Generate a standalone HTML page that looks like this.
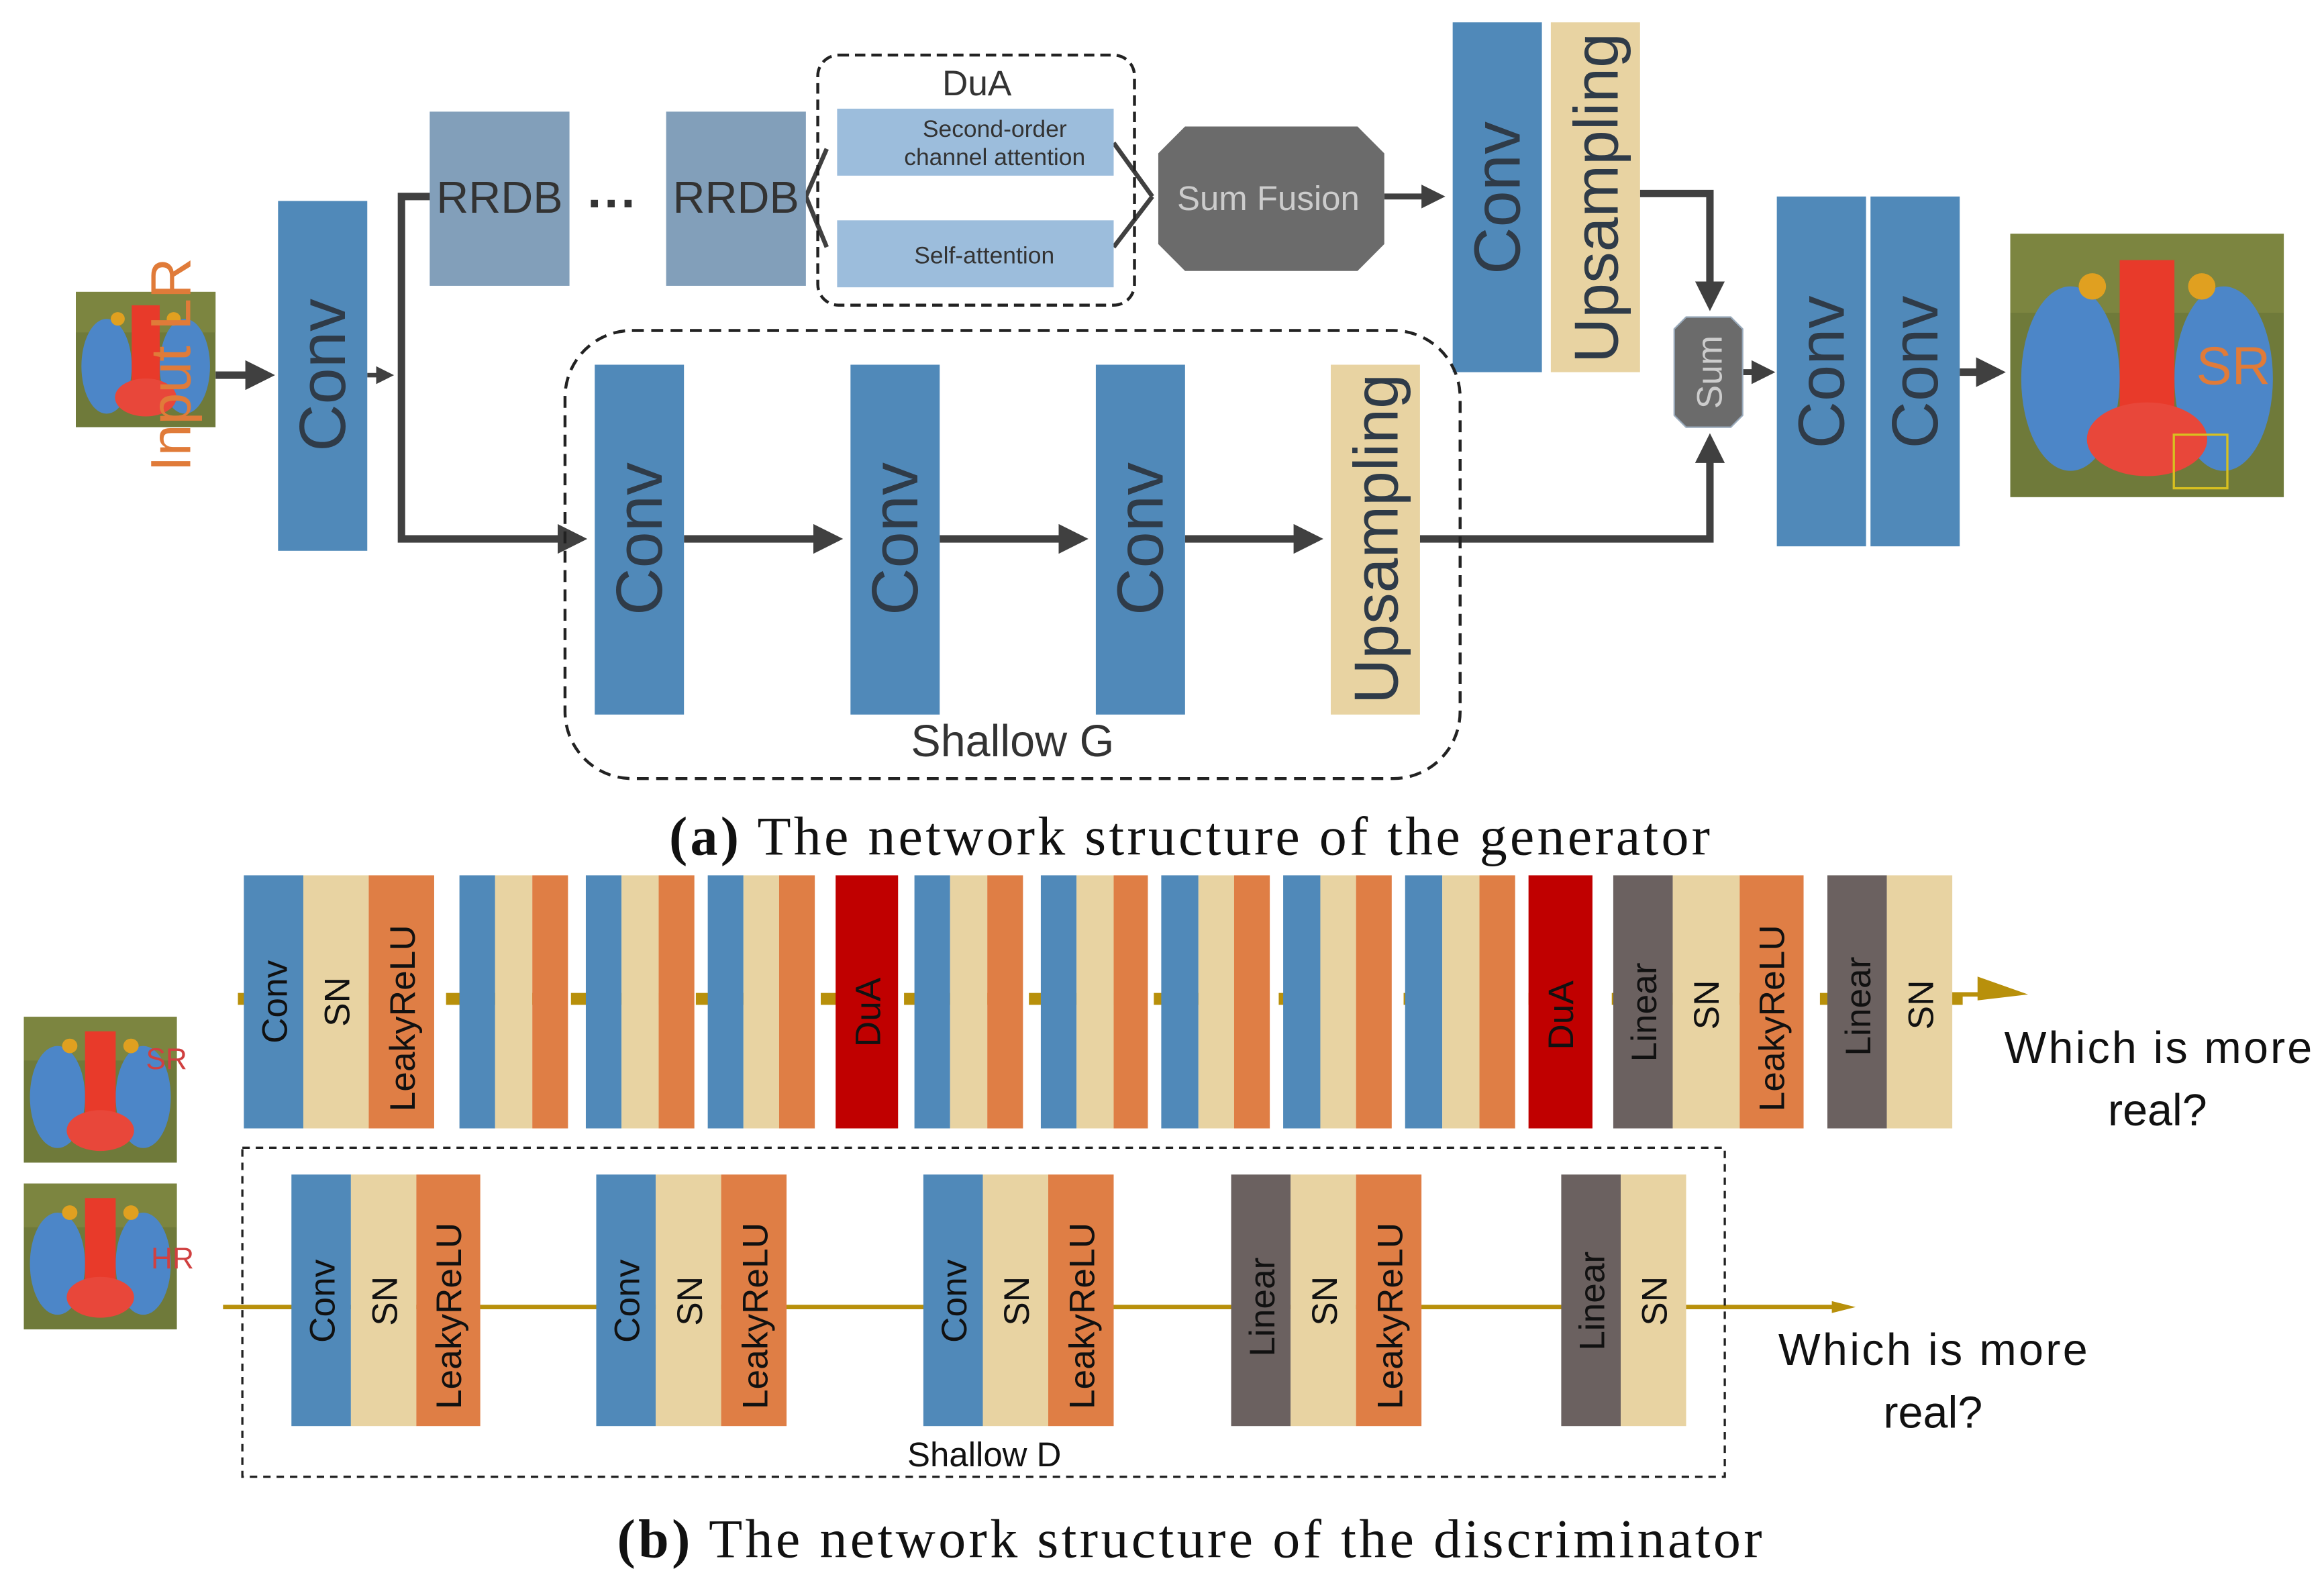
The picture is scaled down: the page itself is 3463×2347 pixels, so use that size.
<!DOCTYPE html>
<html><head><meta charset="utf-8"><style>html,body{margin:0;padding:0;background:#fff}svg{display:block}</style></head><body>
<svg width="3463" height="2347" viewBox="0 0 1563 1058" preserveAspectRatio="none" xmlns="http://www.w3.org/2000/svg" font-family="'Liberation Sans',sans-serif">
<defs>
<marker id="ah" markerWidth="4" markerHeight="4" refX="3" refY="2" orient="auto" markerUnits="strokeWidth"><path d="M0,0 L4,2 L0,4 z" fill="#404040"/></marker>
<g id="mand">
<rect width="100" height="100" fill="#6f7a3a"/>
<rect x="0" y="0" width="100" height="30" fill="#7c8540"/>
<ellipse cx="22" cy="55" rx="18" ry="35" fill="#4c86c8"/>
<ellipse cx="78" cy="55" rx="18" ry="35" fill="#4c86c8"/>
<rect x="40" y="10" width="20" height="70" fill="#e83a2a"/>
<ellipse cx="50" cy="78" rx="22" ry="14" fill="#e8473a"/>
<circle cx="30" cy="20" r="5" fill="#e0a020"/><circle cx="70" cy="20" r="5" fill="#e0a020"/>
</g>
</defs>
<!-- Generator -->
<svg x="51" y="196" width="94" height="91" viewBox="0 0 100 100" preserveAspectRatio="none"><use href="#mand"/></svg>
<text transform="translate(128,245) rotate(-90)" text-anchor="middle" font-size="38" fill="#e07b39">Input LR</text>
<g stroke="#404040" stroke-width="5" fill="none">
<line x1="145" y1="252" x2="180" y2="252" marker-end="url(#ah)"/>
<line x1="247" y1="252" x2="262" y2="252" stroke-width="3" marker-end="url(#ah)"/>
<polyline points="290,132 270,132 270,362 390,362" marker-end="url(#ah)"/>
<line x1="460" y1="362" x2="562" y2="362" marker-end="url(#ah)"/>
<line x1="632" y1="362" x2="727" y2="362" marker-end="url(#ah)"/>
<line x1="797" y1="362" x2="885" y2="362" marker-end="url(#ah)"/>
<polyline points="955,362 1150,362 1150,296" marker-end="url(#ah)"/>
<polyline points="1103,130 1150,130 1150,204" marker-end="url(#ah)"/>
<line x1="931" y1="132" x2="968" y2="132" marker-end="url(#ah)" stroke-width="4"/>
<line x1="1172" y1="250" x2="1190" y2="250" stroke-width="4" marker-end="url(#ah)"/>
<line x1="1318" y1="250" x2="1344" y2="250" marker-end="url(#ah)"/>
<path d="M542,132 L556,100 M542,132 L556,166 M749,96 L775,132 M749,166 L775,132" stroke-width="3"/>
</g>
<rect x="187" y="135" width="60" height="235" fill="#5089b9"/>
<text transform="translate(232,252) rotate(-90)" text-anchor="middle" font-size="44" fill="#2f3b48">Conv</text>
<rect x="289" y="75" width="94" height="117" fill="#829fba"/>
<text x="336" y="143" text-anchor="middle" font-size="30" fill="#333">RRDB</text>
<text x="412" y="148" text-anchor="middle" font-size="34" font-weight="bold" fill="#333">···</text>
<rect x="448" y="75" width="94" height="117" fill="#829fba"/>
<text x="495" y="143" text-anchor="middle" font-size="30" fill="#333">RRDB</text>
<rect x="550" y="37" width="213" height="168" rx="14" fill="none" stroke="#222" stroke-width="2" stroke-dasharray="7,4"/>
<text x="657" y="64" text-anchor="middle" font-size="24" fill="#333">DuA</text>
<rect x="563" y="73" width="186" height="45" fill="#9cbddc"/>
<text x="669" y="92" text-anchor="middle" font-size="16" fill="#333">Second-order</text>
<text x="669" y="111" text-anchor="middle" font-size="16" fill="#333">channel attention</text>
<rect x="563" y="148" width="186" height="45" fill="#9cbddc"/>
<text x="662" y="177" text-anchor="middle" font-size="16" fill="#333">Self-attention</text>
<polygon points="797,85 913,85 931,103 931,164 913,182 797,182 779,164 779,103" fill="#6b6b6b"/>
<text x="853" y="141" text-anchor="middle" font-size="23" fill="#ccc">Sum Fusion</text>
<rect x="977" y="15" width="60" height="235" fill="#5089b9"/>
<text transform="translate(1022,133) rotate(-90)" text-anchor="middle" font-size="44" fill="#2f3b48">Conv</text>
<rect x="1043" y="15" width="60" height="235" fill="#e8d3a2"/>
<text transform="translate(1088,133) rotate(-90)" text-anchor="middle" font-size="42" fill="#2f3b48">Upsampling</text>
<polygon points="1134,213 1164,213 1172,221 1172,279 1164,287 1134,287 1126,279 1126,221" fill="#6b6b6b" stroke="#9ab" stroke-width="1"/>
<text transform="translate(1158,250) rotate(-90)" text-anchor="middle" font-size="24" fill="#ccc">Sum</text>
<rect x="1195" y="132" width="60" height="235" fill="#5089b9"/>
<text transform="translate(1240,250) rotate(-90)" text-anchor="middle" font-size="44" fill="#2f3b48">Conv</text>
<rect x="1258" y="132" width="60" height="235" fill="#5089b9"/>
<text transform="translate(1303,250) rotate(-90)" text-anchor="middle" font-size="44" fill="#2f3b48">Conv</text>
<svg x="1352" y="157" width="184" height="177" viewBox="0 0 100 100" preserveAspectRatio="none"><use href="#mand"/></svg>
<text x="1502" y="258" text-anchor="middle" font-size="36" fill="#e07b39">SR</text>
<rect x="1462" y="292" width="36" height="36" fill="none" stroke="#d8c020" stroke-width="1.5"/>
<rect x="380" y="222" width="602" height="301" rx="45" fill="none" stroke="#222" stroke-width="2" stroke-dasharray="8,5"/>
<rect x="400" y="245" width="60" height="235" fill="#5089b9"/>
<text transform="translate(445,362) rotate(-90)" text-anchor="middle" font-size="44" fill="#2f3b48">Conv</text>
<rect x="572" y="245" width="60" height="235" fill="#5089b9"/>
<text transform="translate(617,362) rotate(-90)" text-anchor="middle" font-size="44" fill="#2f3b48">Conv</text>
<rect x="737" y="245" width="60" height="235" fill="#5089b9"/>
<text transform="translate(782,362) rotate(-90)" text-anchor="middle" font-size="44" fill="#2f3b48">Conv</text>
<rect x="895" y="245" width="60" height="235" fill="#e8d3a2"/>
<text transform="translate(940,362) rotate(-90)" text-anchor="middle" font-size="42" fill="#2f3b48">Upsampling</text>
<text x="681" y="508" text-anchor="middle" font-size="30" fill="#333">Shallow G</text>
<text x="450" y="574" font-size="37" font-family="'Liberation Serif',serif" fill="#111" textLength="700" lengthAdjust="spacing"><tspan font-weight="bold">(a)</tspan> The network structure of the generator</text>
<!-- Discriminator top -->
<g stroke="#b8900b" stroke-width="8">
<line x1="160" y1="671" x2="1320" y2="671" stroke-dasharray="14,14"/>
</g>
<g stroke="#b8900b" stroke-width="3"><line x1="1310" y1="668" x2="1340" y2="668"/></g>
<polygon points="1330,656 1364,668 1330,672" fill="#b8900b"/>
<g>
<rect x="164" y="588" width="40" height="170" fill="#5089b9"/><rect x="204" y="588" width="44" height="170" fill="#e8d3a2"/><rect x="248" y="588" width="44" height="170" fill="#df7e45"/>
<rect x="309" y="588" width="24" height="170" fill="#5089b9"/><rect x="333" y="588" width="25" height="170" fill="#e8d3a2"/><rect x="358" y="588" width="24" height="170" fill="#df7e45"/>
<rect x="394" y="588" width="24" height="170" fill="#5089b9"/><rect x="418" y="588" width="25" height="170" fill="#e8d3a2"/><rect x="443" y="588" width="24" height="170" fill="#df7e45"/>
<rect x="476" y="588" width="24" height="170" fill="#5089b9"/><rect x="500" y="588" width="24" height="170" fill="#e8d3a2"/><rect x="524" y="588" width="24" height="170" fill="#df7e45"/>
<rect x="562" y="588" width="42" height="170" fill="#c00000"/>
<rect x="615" y="588" width="24" height="170" fill="#5089b9"/><rect x="639" y="588" width="25" height="170" fill="#e8d3a2"/><rect x="664" y="588" width="24" height="170" fill="#df7e45"/>
<rect x="700" y="588" width="24" height="170" fill="#5089b9"/><rect x="724" y="588" width="25" height="170" fill="#e8d3a2"/><rect x="749" y="588" width="23" height="170" fill="#df7e45"/>
<rect x="781" y="588" width="25" height="170" fill="#5089b9"/><rect x="806" y="588" width="24" height="170" fill="#e8d3a2"/><rect x="830" y="588" width="24" height="170" fill="#df7e45"/>
<rect x="863" y="588" width="25" height="170" fill="#5089b9"/><rect x="888" y="588" width="24" height="170" fill="#e8d3a2"/><rect x="912" y="588" width="24" height="170" fill="#df7e45"/>
<rect x="945" y="588" width="25" height="170" fill="#5089b9"/><rect x="970" y="588" width="25" height="170" fill="#e8d3a2"/><rect x="995" y="588" width="24" height="170" fill="#df7e45"/>
<rect x="1028" y="588" width="43" height="170" fill="#c00000"/>
<rect x="1085" y="588" width="40" height="170" fill="#6b6160"/><rect x="1125" y="588" width="45" height="170" fill="#e8d3a2"/><rect x="1170" y="588" width="43" height="170" fill="#df7e45"/>
<rect x="1229" y="588" width="40" height="170" fill="#6b6160"/><rect x="1269" y="588" width="44" height="170" fill="#e8d3a2"/>
</g>
<g font-size="24" fill="#111" text-anchor="middle">
<text transform="translate(193,673) rotate(-90)">Conv</text>
<text transform="translate(235,673) rotate(-90)">SN</text>
<text transform="translate(279,684) rotate(-90)">LeakyReLU</text>
<text transform="translate(592,680) rotate(-90)">DuA</text>
<text transform="translate(1058,682) rotate(-90)">DuA</text>
<text transform="translate(1114,680) rotate(-90)">Linear</text>
<text transform="translate(1156,675) rotate(-90)">SN</text>
<text transform="translate(1200,684) rotate(-90)">LeakyReLU</text>
<text transform="translate(1258,676) rotate(-90)">Linear</text>
<text transform="translate(1300,675) rotate(-90)">SN</text>
</g>
<text x="1348" y="714" font-size="30" fill="#111" textLength="207" lengthAdjust="spacing">Which is more</text>
<text x="1451" y="756" text-anchor="middle" font-size="30" fill="#111">real?</text>
<svg x="16" y="683" width="103" height="98" viewBox="0 0 100 100" preserveAspectRatio="none"><use href="#mand"/></svg>
<text x="112" y="718" text-anchor="middle" font-size="20" fill="#d04040">SR</text>
<svg x="16" y="795" width="103" height="98" viewBox="0 0 100 100" preserveAspectRatio="none"><use href="#mand"/></svg>
<text x="116" y="852" text-anchor="middle" font-size="20" fill="#d04040">HR</text>
<!-- bottom -->
<g stroke="#b8900b" stroke-width="3"><line x1="150" y1="878" x2="1235" y2="878"/></g>
<polygon points="1232,874 1248,878 1232,882" fill="#b8900b"/>
<rect x="163" y="771" width="997" height="221" fill="none" stroke="#222" stroke-width="1.5" stroke-dasharray="5,4"/>
<g>
<rect x="196" y="789" width="40" height="169" fill="#5089b9"/><rect x="236" y="789" width="44" height="169" fill="#e8d3a2"/><rect x="280" y="789" width="43" height="169" fill="#df7e45"/>
<rect x="401" y="789" width="40" height="169" fill="#5089b9"/><rect x="441" y="789" width="44" height="169" fill="#e8d3a2"/><rect x="485" y="789" width="44" height="169" fill="#df7e45"/>
<rect x="621" y="789" width="40" height="169" fill="#5089b9"/><rect x="661" y="789" width="44" height="169" fill="#e8d3a2"/><rect x="705" y="789" width="44" height="169" fill="#df7e45"/>
<rect x="828" y="789" width="40" height="169" fill="#6b6160"/><rect x="868" y="789" width="44" height="169" fill="#e8d3a2"/><rect x="912" y="789" width="44" height="169" fill="#df7e45"/>
<rect x="1050" y="789" width="40" height="169" fill="#6b6160"/><rect x="1090" y="789" width="44" height="169" fill="#e8d3a2"/>
</g>
<g font-size="24" fill="#111" text-anchor="middle">
<text transform="translate(225,874) rotate(-90)">Conv</text><text transform="translate(267,874) rotate(-90)">SN</text><text transform="translate(310,884) rotate(-90)">LeakyReLU</text>
<text transform="translate(430,874) rotate(-90)">Conv</text><text transform="translate(472,874) rotate(-90)">SN</text><text transform="translate(516,884) rotate(-90)">LeakyReLU</text>
<text transform="translate(650,874) rotate(-90)">Conv</text><text transform="translate(692,874) rotate(-90)">SN</text><text transform="translate(736,884) rotate(-90)">LeakyReLU</text>
<text transform="translate(857,878) rotate(-90)">Linear</text><text transform="translate(899,874) rotate(-90)">SN</text><text transform="translate(943,884) rotate(-90)">LeakyReLU</text>
<text transform="translate(1079,874) rotate(-90)">Linear</text><text transform="translate(1121,874) rotate(-90)">SN</text>
</g>
<text x="662" y="985" text-anchor="middle" font-size="23" fill="#111">Shallow D</text>
<text x="1196" y="917" font-size="30" fill="#111" textLength="208" lengthAdjust="spacing">Which is more</text>
<text x="1300" y="959" text-anchor="middle" font-size="30" fill="#111">real?</text>
<text x="415" y="1046" font-size="37" font-family="'Liberation Serif',serif" fill="#111" textLength="770" lengthAdjust="spacing"><tspan font-weight="bold">(b)</tspan> The network structure of the discriminator</text>
</svg>
</body></html>
